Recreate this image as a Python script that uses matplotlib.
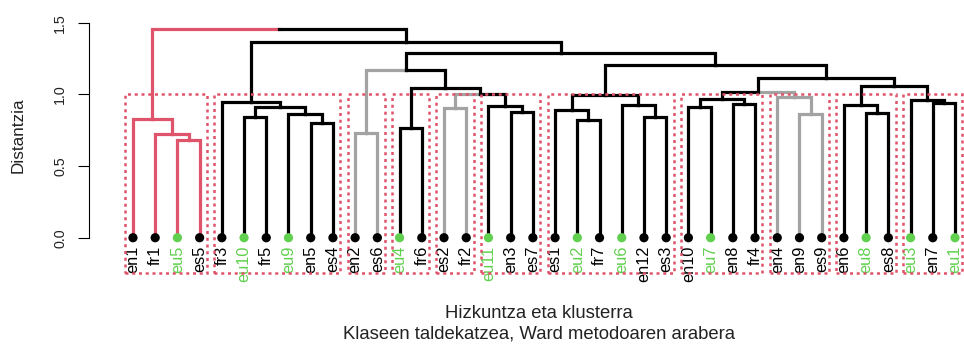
import numpy as np
import matplotlib
matplotlib.use("Agg")
import matplotlib.pyplot as plt
from matplotlib import transforms
from matplotlib.patches import Rectangle

plt.rcParams['font.family'] = ['Liberation Sans', 'DejaVu Sans']

# Leaves in dendrogram order
labels = ["en1", "fr1", "eu5", "es5", "fr3", "eu10", "fr5", "eu9", "en5", "es4",
          "en2", "es6", "eu4", "fr6", "es2", "fr2", "eu11", "en3", "es7", "es1",
          "eu2", "fr7", "eu6", "en12", "es3", "en10", "eu7", "en8", "fr4", "en4",
          "en9", "es9", "en6", "eu8", "es8", "eu3", "en7", "eu1"]
n_leaves = len(labels)

# Ward merges: leaves are 0..37, merge k creates node 38 + k
merge_left = [2, 1, 0, 5, 8, 7, 41, 4, 10, 12, 14, 17, 16, 48, 47, 46,
              20, 19, 23, 22, 55, 25, 27, 59, 30, 29, 61, 33, 32, 36, 35,
              66, 64, 58, 53, 45, 40]
merge_right = [3, 38, 39, 6, 9, 42, 43, 44, 11, 13, 15, 18, 49, 50, 51, 52,
               21, 54, 24, 56, 57, 26, 28, 60, 31, 62, 63, 34, 65, 37, 67,
               68, 69, 70, 71, 72, 73]
merge_height = [0.68, 0.724, 0.828, 0.845, 0.80, 0.86, 0.914, 0.949, 0.733,
                0.763, 0.903, 0.875, 0.919, 1.005, 1.042, 1.170,
                0.82, 0.891, 0.84, 0.926, 0.996, 0.914, 0.932, 0.967, 0.865,
                0.98, 1.02, 0.873, 0.928, 0.94, 0.958, 1.062, 1.112, 1.208,
                1.289, 1.368, 1.454]

# Subtrees drawn in colour
red_roots = [40]
gray_roots = [46, 48, 63]
n_clusters = 11

RED = "#DF536B"
GRAY = "#A3A3A3"
GREEN = "#61D04F"

n_nodes = n_leaves + len(merge_height)
children = {n_leaves + k: (merge_left[k], merge_right[k]) for k in range(len(merge_height))}
height = np.zeros(n_nodes)
xpos = np.zeros(n_nodes)
xpos[:n_leaves] = np.arange(n_leaves)
for k in range(len(merge_height)):
    node = n_leaves + k
    height[node] = merge_height[k]
    xpos[node] = (xpos[merge_left[k]] + xpos[merge_right[k]]) / 2

def subtree(node):
    if node < n_leaves:
        return [node]
    l, r = children[node]
    return [node] + subtree(l) + subtree(r)

colour = {i: "black" for i in range(n_nodes)}
for root in red_roots:
    for m in subtree(root):
        colour[m] = RED
for root in gray_roots:
    for m in subtree(root):
        colour[m] = GRAY

fig = plt.figure(figsize=(9.64, 3.44), dpi=100)
ax = fig.add_axes([0.0926, 0.2073, 0.9074, 0.7474])
ax.set_xlim(-1.967, 37.405)
ax.set_ylim(-0.244, 1.55)

# branches
for node, (l, r) in children.items():
    for c in (l, r):
        ax.plot([xpos[node], xpos[c], xpos[c]], [height[node], height[node], height[c]],
                color=colour[c], lw=2.3, solid_capstyle='projecting',
                solid_joinstyle='miter', zorder=2)

# leaf dots and labels
leaf_col = [GREEN if s.startswith("eu") else "black" for s in labels]
ax.scatter(np.arange(n_leaves), np.zeros(n_leaves), s=44, c=leaf_col,
           edgecolors='none', zorder=3)
lab_tr = transforms.offset_copy(ax.transData, fig=fig, y=-8, units='dots')
for i, s in enumerate(labels):
    ax.text(i, 0, s, rotation=90, ha='center', va='top', fontsize=11.8,
            color=leaf_col[i], transform=lab_tr)

# cluster boxes at the k = 11 cut
cut = np.mean(sorted(merge_height, reverse=True)[n_clusters - 2:n_clusters])
tops = [n for n in range(n_nodes) if height[n] < cut and
        all(not (n in ch and height[p] < cut) for p, ch in children.items())]
for n in tops:
    leaves = [m for m in subtree(n) if m < n_leaves]
    a, b = min(leaves), max(leaves)
    ax.add_patch(Rectangle((a - 0.34, -0.244), b - a + 0.67, cut + 0.244,
                           fill=False, ec=RED, lw=1.8, ls=(0, (1.2, 1.5)),
                           clip_on=False, zorder=4))

for sp in ['top', 'right', 'bottom']:
    ax.spines[sp].set_visible(False)
ax.spines['left'].set_bounds(0, 1.5)
ax.spines['left'].set_linewidth(0.8)
ax.set_xticks([])
ax.set_yticks([0, 0.5, 1.0, 1.5])
ax.set_yticklabels(["0.0", "0.5", "1.0", "1.5"], rotation=90, va='center',
                   fontsize=10.3, color="#222222")
ax.tick_params(axis='y', length=8, width=0.8, pad=8)

fig.text(18.5 / 964, 1 - 135 / 344, "Distantzia", rotation=90, ha='center',
         va='center', fontsize=12.3, color="#222222")
fig.text(539 / 964, 1 - 313 / 344, "Hizkuntza eta klusterra", ha='center',
         va='center', fontsize=13.3, color="#222222")
fig.text(539 / 964, 1 - 334 / 344, "Klaseen taldekatzea, Ward metodoaren arabera",
         ha='center', va='center', fontsize=13.3, color="#222222")

fig.savefig("out.png", dpi=100)
